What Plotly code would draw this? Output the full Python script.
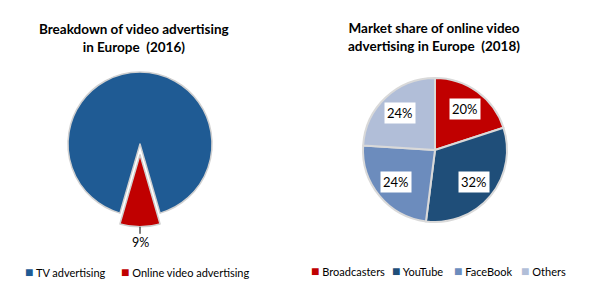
import math
import plotly.graph_objects as go

W, H = 593, 306

# ---- data ----
left_title = "Breakdown of video advertising<br>in Europe  (2016)"
left_labels = ["TV advertising", "Online video advertising"]
left_values = [91, 9]
left_text = ["", "9%"]

right_title = "Market share of online video<br>advertising in Europe  (2018)"
right_labels = ["Broadcasters", "YouTube", "FaceBook", "Others"]
right_values = [20, 32, 24, 24]

# ---- styles ----
left_colors = ["#1F5B94", "#C00000"]
right_colors = ["#C00000", "#1F4E79", "#6C8CBD", "#B1BED8"]
FONT = "Lato"

# pie geometry (pixels)
L_CX, L_CY, L_R, L_PULL = 140, 144, 72, 0.15
R_CX, R_CY, R_R = 435, 150, 72


def px(x):
    return x / W


def py(y):
    return 1 - y / H


def wrap(a):
    return (a + 180) % 360 - 180


fig = go.Figure()

# left pie: online slice centred at the bottom
tot = sum(left_values)
online_span = left_values[1] / tot * 360
tv_start = 180 + online_span / 2
lbox = L_R * (1 + L_PULL)
fig.add_trace(go.Pie(
    labels=left_labels, values=left_values, sort=False, direction="clockwise",
    rotation=wrap(tv_start), pull=[0, L_PULL],
    marker=dict(colors=left_colors, line=dict(color="#D0D0D0", width=1.5)),
    textinfo="none", hoverinfo="label+percent", showlegend=False,
    domain=dict(x=[px(L_CX - lbox), px(L_CX + lbox)], y=[py(L_CY + lbox), py(L_CY - lbox)]),
))

# right pie
fig.add_trace(go.Pie(
    labels=right_labels, values=right_values, sort=False, direction="clockwise",
    rotation=0,
    marker=dict(colors=right_colors, line=dict(color="#D9D9D9", width=2)),
    textinfo="none", hoverinfo="label+percent", showlegend=False,
    domain=dict(x=[px(R_CX - R_R), px(R_CX + R_R)], y=[py(R_CY + R_R), py(R_CY - R_R)]),
))

ann = []
# titles
ann.append(dict(text="<b>" + left_title + "</b>", x=px(134), y=py(38), xref="paper", yref="paper",
                xanchor="center", yanchor="middle",
                showarrow=False, font=dict(family=FONT, size=13.5, color="#000"), align="center"))
ann.append(dict(text="<b>" + right_title + "</b>", x=px(434), y=py(37), xref="paper", yref="paper",
                xanchor="center", yanchor="middle",
                showarrow=False, font=dict(family=FONT, size=13.5, color="#000"), align="center"))

# left outside label with leader
edge_y = L_CY + L_PULL * L_R + L_R
ann.append(dict(text=left_text[1], x=px(L_CX), y=py(edge_y), xref="paper", yref="paper",
                showarrow=True, arrowhead=0, arrowwidth=1, arrowcolor="#000", ax=0, ay=16,
                font=dict(family=FONT, size=12.5, color="#000")))

# right inside labels with white boxes
rt = sum(right_values)
cum = 0
for v in right_values:
    mid = (cum + v / 2) / rt * 2 * math.pi
    cum += v
    rr = 0.7 * R_R
    x = R_CX + rr * math.sin(mid)
    y = R_CY - rr * math.cos(mid)
    ann.append(dict(text=f"{round(v / rt * 100)}%", x=px(x), y=py(y), xref="paper", yref="paper",
                    xanchor="center", yanchor="middle",
                    showarrow=False, bgcolor="white", borderpad=2,
                    font=dict(family=FONT, size=13, color="#000")))


# legends
def legend_item(label, color, x, y):
    return dict(text=f"<span style='color:{color};font-size:14px'>■</span> {label}", x=px(x), y=py(y),
                xref="paper", yref="paper", xanchor="left", yanchor="middle", showarrow=False,
                font=dict(family=FONT, size=11, color="#000"))


for lab, col, x in zip(left_labels, left_colors, [23, 119]):
    ann.append(legend_item(lab, col, x, 271))
for lab, col, x in zip(right_labels, right_colors, [309, 390, 452, 519]):
    ann.append(legend_item(lab, col, x, 270))

fig.update_layout(
    width=W, height=H, margin=dict(l=0, r=0, t=0, b=0),
    paper_bgcolor="white", plot_bgcolor="white",
    annotations=ann, showlegend=False,
)

fig.write_html("out.html")
